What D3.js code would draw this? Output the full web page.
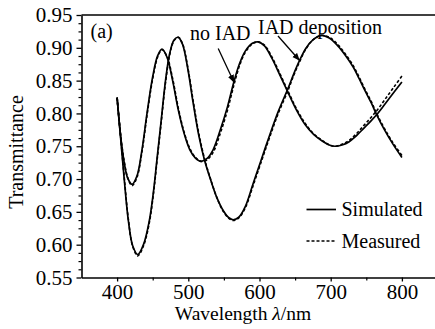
<!DOCTYPE html>
<html>
<head>
<meta charset="utf-8">
<script src="https://cdn.jsdelivr.net/npm/d3@7"></script>
<style>
  body { margin: 0; background: #fff; }
  svg { display: block; }
</style>
</head>
<body>
<div id="chart"></div>
<script>
// wavelengths (nm) and transmittance
const wlNoIad = [400, 405, 410, 415, 421, 428, 435, 442, 450, 457, 463, 470, 478, 486, 494, 502, 510, 518, 526, 535, 545, 555, 564, 572, 580, 590, 598, 607, 617, 628, 640, 652, 664, 676, 688, 698, 706, 716, 726, 736, 746, 756, 766, 776, 788, 800];
const simNoIad = [0.824, 0.765, 0.725, 0.701, 0.692, 0.705, 0.745, 0.800, 0.856, 0.888, 0.898, 0.886, 0.850, 0.805, 0.770, 0.745, 0.732, 0.727, 0.731, 0.745, 0.775, 0.810, 0.848, 0.876, 0.895, 0.907, 0.909, 0.903, 0.885, 0.860, 0.832, 0.805, 0.783, 0.768, 0.758, 0.752, 0.750, 0.752, 0.757, 0.766, 0.777, 0.788, 0.800, 0.814, 0.831, 0.848];
const measNoIad = [0.824, 0.767, 0.727, 0.702, 0.690, 0.703, 0.742, 0.797, 0.853, 0.886, 0.897, 0.887, 0.853, 0.808, 0.772, 0.747, 0.733, 0.727, 0.729, 0.741, 0.770, 0.805, 0.843, 0.873, 0.893, 0.906, 0.909, 0.904, 0.887, 0.862, 0.834, 0.807, 0.785, 0.769, 0.759, 0.752, 0.750, 0.753, 0.759, 0.769, 0.781, 0.793, 0.806, 0.821, 0.839, 0.857];

const wlIad = [400, 405, 410, 416, 422, 429, 437, 445, 451, 456, 462, 468, 474, 480, 486, 492, 499, 507, 515, 523, 531, 540, 549, 557, 563, 571, 580, 591, 602, 614, 626, 640, 648, 656, 665, 675, 687, 698, 710, 721, 732, 740, 748, 757, 765, 775, 787, 800];
const simIad = [0.824, 0.762, 0.700, 0.635, 0.598, 0.585, 0.600, 0.635, 0.680, 0.730, 0.790, 0.850, 0.892, 0.912, 0.916, 0.905, 0.870, 0.815, 0.765, 0.728, 0.700, 0.672, 0.652, 0.641, 0.638, 0.642, 0.658, 0.693, 0.728, 0.766, 0.802, 0.838, 0.860, 0.880, 0.899, 0.912, 0.919, 0.915, 0.903, 0.888, 0.870, 0.853, 0.835, 0.816, 0.797, 0.776, 0.754, 0.733];
const measIad = [0.824, 0.764, 0.703, 0.637, 0.597, 0.583, 0.598, 0.632, 0.677, 0.727, 0.787, 0.847, 0.890, 0.911, 0.916, 0.906, 0.872, 0.818, 0.768, 0.730, 0.701, 0.672, 0.651, 0.640, 0.637, 0.641, 0.656, 0.690, 0.725, 0.763, 0.799, 0.835, 0.858, 0.878, 0.898, 0.912, 0.919, 0.916, 0.905, 0.890, 0.872, 0.855, 0.837, 0.818, 0.799, 0.778, 0.756, 0.736];

const xTicks = [400, 500, 600, 700, 800];
const xMinor = [450, 550, 650, 750];
const yTicks = [0.55, 0.60, 0.65, 0.70, 0.75, 0.80, 0.85, 0.90, 0.95];

const margin = { top: 15, left: 81.5 };
const width = 356, height = 262.5;

const svg = d3.select("#chart").append("svg")
  .attr("width", 435)
  .attr("height", 329)
  .attr("font-family", "Liberation Serif");

const g = svg.append("g")
  .attr("transform", "translate(" + margin.left + "," + margin.top + ")");

const x = d3.scaleLinear().domain([350, 850]).range([0, width]);
const y = d3.scaleLinear().domain([0.55, 0.95]).range([height, 0]);

// minor ticks
const yMinor = d3.range(0.5625, 0.95, 0.0125).filter(v => Math.abs(v / 0.05 - Math.round(v / 0.05)) > 0.01);
g.append("g")
  .call(d3.axisLeft(y).tickValues(yMinor).tickSize(3).tickFormat("").tickSizeOuter(0))
  .call(a => a.select(".domain").remove())
  .selectAll("line").attr("stroke-width", 1.2);
g.append("g")
  .attr("transform", "translate(0," + height + ")")
  .call(d3.axisBottom(x).tickValues(xMinor).tickSize(3).tickFormat("").tickSizeOuter(0))
  .call(a => a.select(".domain").remove())
  .selectAll("line").attr("stroke-width", 1.2);

// main axes
const yAxis = g.append("g")
  .call(d3.axisLeft(y).tickValues(yTicks).tickFormat(d3.format(".2f")).tickSize(5).tickPadding(4).tickSizeOuter(0));
const xAxis = g.append("g")
  .attr("transform", "translate(0," + height + ")")
  .call(d3.axisBottom(x).tickValues(xTicks).tickFormat(d3.format("d")).tickSize(4).tickPadding(3).tickSizeOuter(0));

[yAxis, xAxis].forEach(a => {
  a.attr("font-family", "Liberation Serif").attr("font-size", 21);
  a.select(".domain").attr("stroke-width", 1.6);
  a.selectAll(".tick line").attr("stroke-width", 1.3);
  a.selectAll("text").attr("fill", "#000");
});

// top frame line
g.append("line")
  .attr("x1", 0).attr("x2", width)
  .attr("y1", 0).attr("y2", 0)
  .attr("stroke", "#000").attr("stroke-width", 1.6);

const line = (wl) => d3.line()
  .x((d, i) => x(wl[i]))
  .y(d => y(d))
  .curve(d3.curveCatmullRom.alpha(0.5));

// measured (dashed) under simulated (solid)
g.append("path").datum(measNoIad)
  .attr("d", line(wlNoIad)).attr("fill", "none")
  .attr("stroke", "#000").attr("stroke-width", 1.6).attr("stroke-dasharray", "3,2");
g.append("path").datum(measIad)
  .attr("d", line(wlIad)).attr("fill", "none")
  .attr("stroke", "#000").attr("stroke-width", 1.6).attr("stroke-dasharray", "3,2");
g.append("path").datum(simNoIad)
  .attr("d", line(wlNoIad)).attr("fill", "none")
  .attr("stroke", "#000").attr("stroke-width", 1.7);
g.append("path").datum(simIad)
  .attr("d", line(wlIad)).attr("fill", "none")
  .attr("stroke", "#000").attr("stroke-width", 1.7);

// arrow annotations
svg.append("defs").append("marker")
  .attr("id", "head")
  .attr("viewBox", "0 0 10 10")
  .attr("refX", 9).attr("refY", 5)
  .attr("markerWidth", 6).attr("markerHeight", 6)
  .attr("orient", "auto")
  .append("path").attr("d", "M0,1 L10,5 L0,9 Z").attr("fill", "#000");

const arrows = [
  { from: [542, 0.899], to: [564, 0.848] },
  { from: [626, 0.918], to: [656, 0.881] }
];
arrows.forEach(a => {
  g.append("line")
    .attr("x1", x(a.from[0])).attr("y1", y(a.from[1]))
    .attr("x2", x(a.to[0])).attr("y2", y(a.to[1]))
    .attr("stroke", "#000").attr("stroke-width", 1.3)
    .attr("marker-end", "url(#head)");
});

const label = (tx, ty, s) => svg.append("text")
  .attr("x", tx).attr("y", ty)
  .attr("font-size", 20)
  .text(s);

label(90.5, 38, "(a)");
label(190, 40, "no IAD");
label(258, 33.5, "IAD deposition");

// legend
svg.append("line").attr("x1", 306.5).attr("x2", 336).attr("y1", 209.5).attr("y2", 209.5)
  .attr("stroke", "#000").attr("stroke-width", 1.7);
svg.append("line").attr("x1", 306.5).attr("x2", 336).attr("y1", 241).attr("y2", 241)
  .attr("stroke", "#000").attr("stroke-width", 1.6).attr("stroke-dasharray", "3,2");
label(341.5, 215.5, "Simulated");
label(341.5, 247.5, "Measured");

// axis titles
const xt = svg.append("text")
  .attr("x", 243).attr("y", 320)
  .attr("text-anchor", "middle")
  .attr("font-size", 19.5);
xt.append("tspan").text("Wavelength ");
xt.append("tspan").attr("font-style", "italic").text("λ");
xt.append("tspan").text("/nm");

svg.append("text")
  .attr("transform", "translate(23,152) rotate(-90)")
  .attr("text-anchor", "middle")
  .attr("font-size", 20)
  .text("Transmittance");
</script>
</body>
</html>
